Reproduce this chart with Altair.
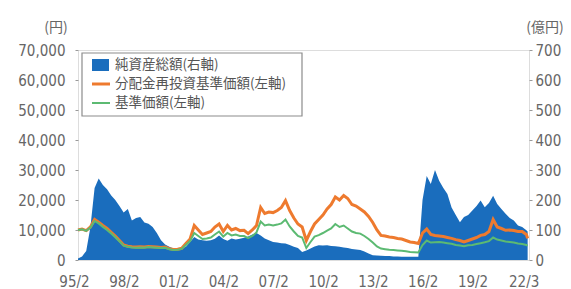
import altair as alt
import pandas as pd

# quarterly sample dates, Feb 1995 .. Mar 2022
dates = [f"{y}-{m:02d}-01" for y in range(1995, 2022) for m in (2, 5, 8, 11)] + ["2022-02-01", "2022-03-01"]

# 純資産総額 (億円, right axis)
net_assets = [
    5, 12, 30, 110,
    240, 272, 250, 236,
    215, 200, 180, 158,
    170, 132, 140, 143,
    125, 121, 110, 90,
    66, 52, 44, 38,
    33, 38, 44, 60,
    77, 68, 66, 64,
    66, 71, 82, 70,
    64, 72, 68, 71,
    74, 78, 85, 90,
    82, 72, 66, 60,
    58, 56, 55, 50,
    44, 40, 27, 32,
    38, 45, 49, 48,
    49, 47, 46, 44,
    42, 40, 37, 35,
    33, 28, 22, 16,
    15, 14, 13, 13,
    12, 12, 11, 11,
    11, 11, 11, 200,
    280, 253, 300, 264,
    240, 220, 175, 150,
    126, 143, 150, 165,
    180, 198, 176, 190,
    214, 187, 170, 154,
    140, 132, 115, 110,
    99, 95,
]

# 分配金再投資基準価額 (円, left axis)
reinvested_nav = [
    10000, 10300, 9800, 11000,
    13500, 12600, 11500, 10500,
    9200, 8000, 6500, 5000,
    4600, 4400, 4300, 4400,
    4300, 4500, 4400, 4300,
    4200, 4300, 3800, 3500,
    3600, 3900, 5500, 7000,
    11500, 10000, 8500, 9000,
    9500, 11000, 12000, 9500,
    11500, 10000, 10500, 9800,
    9900, 8800, 10000, 11500,
    17500, 15500, 16000, 15800,
    16500, 17500, 19800, 16500,
    14000, 12000, 11000, 6500,
    9500, 12000, 13500, 15000,
    17000, 18500, 21000, 20000,
    21500, 20500, 18500, 18000,
    17000, 16000, 14500, 12500,
    10000, 8200, 8000, 7700,
    7500, 7200, 7000, 6500,
    6000, 5800, 5500, 9000,
    10300, 8500, 8200, 8000,
    7800, 7500, 7200, 6800,
    6500, 6000, 6500, 7000,
    7500, 8200, 8500, 9500,
    13500, 11000, 10500, 9900,
    10000, 9800, 9500, 9500,
    8500, 7200,
]

# 基準価額 (円, left axis)
nav = [
    10000, 10200, 9700, 10800,
    13000, 12200, 11000, 10000,
    8800, 7600, 6200, 4800,
    4400, 4200, 4100, 4200,
    4100, 4300, 4200, 4100,
    4000, 4100, 3600, 3300,
    3400, 3700, 5000, 6300,
    9000, 8000, 7000, 7200,
    7500, 8500, 9500, 7800,
    9000, 8200, 8500, 8000,
    8000, 7300, 8000, 9200,
    12800, 11500, 11800, 11500,
    11800, 12200, 13500, 11200,
    9500, 8000, 7500, 4000,
    6000, 7800, 8300, 9000,
    9800, 10500, 12000, 11000,
    11500, 10500, 9500, 9000,
    8800, 8000, 7000, 5800,
    4500, 3800, 3600, 3400,
    3300, 3200, 3100, 2900,
    2700, 2600, 2500, 5000,
    6500, 5800, 5900, 6000,
    5800, 5600, 5400, 5000,
    4800, 4600, 4900, 5000,
    5300, 5600, 5900, 6300,
    7500, 6800, 6500, 6200,
    6000, 5800, 5500, 5300,
    5000, 4800,
]

x_tick_dates = ["1995-02-01", "1998-02-01", "2001-02-01", "2004-02-01", "2007-02-01",
                "2010-02-01", "2013-02-01", "2016-02-01", "2019-02-01", "2022-03-01"]
left_ticks = [0, 10000, 20000, 30000, 40000, 50000, 60000, 70000]
right_ticks = [0, 100, 200, 300, 400, 500, 600, 700]
legend_labels = ["純資産総額(右軸)", "分配金再投資基準価額(左軸)", "基準価額(左軸)"]

BLUE = "#1a6dbd"
ORANGE = "#ee7a2e"
GREEN = "#5cba72"
AX_FONT = "DejaVu Sans Condensed"
JP_FONT = "Noto Sans CJK JP"
GRAY = "#666666"

df = pd.DataFrame({"date": dates, "assets": net_assets, "reinv": reinvested_nav, "nav": nav})

x_enc = alt.X(
    "date:T",
    scale=alt.Scale(type="utc", domain=["1995-02-01", "2022-03-31"]),
    axis=alt.Axis(
        values=[alt.DateTime(year=int(d[:4]), month=int(d[5:7]), date=1, utc=True) for d in x_tick_dates],
        labelExpr="utcFormat(datum.value, '%y/%-m')",
        title=None, ticks=False, domain=False, grid=False,
        labelFont=AX_FONT, labelFontSize=15, labelColor=GRAY,
        labelPadding=14, labelOffset=-4, labelFlush=False, labelOverlap=False,
    ),
)

area = alt.Chart(df).mark_area(color=BLUE, opacity=1).encode(
    x=x_enc,
    y=alt.Y("assets:Q", scale=alt.Scale(domain=[0, 700], nice=False),
            axis=alt.Axis(orient="right", values=right_ticks, title=None, grid=False,
                          domain=False, tickSize=3, tickColor="#999", labelOverlap=False,
                          labelFont=AX_FONT, labelFontSize=15, labelColor=GRAY,
                          labelPadding=3)),
)

yl = alt.Scale(domain=[0, 70000], nice=False)


def left_axis():
    return alt.Axis(orient="left", values=left_ticks, labelExpr="format(datum.value, ',')",
                    title=None, grid=False, domain=False, tickSize=3, tickColor="#999",
                    labelOverlap=False, tickCount=8,
                    labelFont=AX_FONT, labelFontSize=15, labelColor=GRAY, labelPadding=10)


orange = alt.Chart(df).mark_line(color=ORANGE, strokeWidth=3).encode(
    x="date:T",
    y=alt.Y("reinv:Q", scale=yl, axis=left_axis()),
)
green = alt.Chart(df).mark_line(color=GREEN, strokeWidth=2).encode(
    x="date:T",
    y=alt.Y("nav:Q", scale=yl, axis=left_axis()),
)
lines = alt.layer(orange, green)

one = alt.Data(values=[{"k": 1}])
leg_box = alt.Chart(one).mark_rect(fill="white", stroke="#8c8c8c", strokeWidth=1.2).encode(
    x=alt.value(4), x2=alt.value(224), y=alt.value(3), y2=alt.value(66))
leg_sq = alt.Chart(one).mark_rect(fill=BLUE).encode(
    x=alt.value(14), x2=alt.value(31), y=alt.value(9), y2=alt.value(21))
leg_or = alt.Chart(one).mark_rule(color=ORANGE, strokeWidth=3).encode(
    x=alt.value(14), x2=alt.value(32), y=alt.value(34))
leg_gr = alt.Chart(one).mark_rule(color=GREEN, strokeWidth=2).encode(
    x=alt.value(14), x2=alt.value(32), y=alt.value(53))
leg_txt = [
    alt.Chart(one).mark_text(text=lbl, font=JP_FONT, fontSize=13.5, color="#555555",
                             align="left", baseline="middle").encode(
        x=alt.value(37), y=alt.value(yy))
    for lbl, yy in zip(legend_labels, [15, 34, 53])
]
unit_l = alt.Chart(one).mark_text(text="(円)", font=JP_FONT, fontSize=14, color=GRAY,
                                  align="center", baseline="middle").encode(
    x=alt.value(-22), y=alt.value(-22))
unit_r = alt.Chart(one).mark_text(text="(億円)", font=JP_FONT, fontSize=14, color=GRAY,
                                  align="center", baseline="middle").encode(
    x=alt.value(467), y=alt.value(-22))
deco = alt.layer(leg_box, leg_sq, leg_or, leg_gr, *leg_txt, unit_l, unit_r)

chart = alt.layer(area, lines, deco).resolve_scale(y="independent").properties(
    width=451, height=210,
    autosize=alt.AutoSizeParams(type="none"),
    padding={"left": 70, "top": 42, "right": 34, "bottom": 29},
).configure_view(stroke="#9a9a9a", strokeWidth=1.5).configure(background="white")

chart.save("out.html", embed_options={"renderer": "svg", "actions": False})
